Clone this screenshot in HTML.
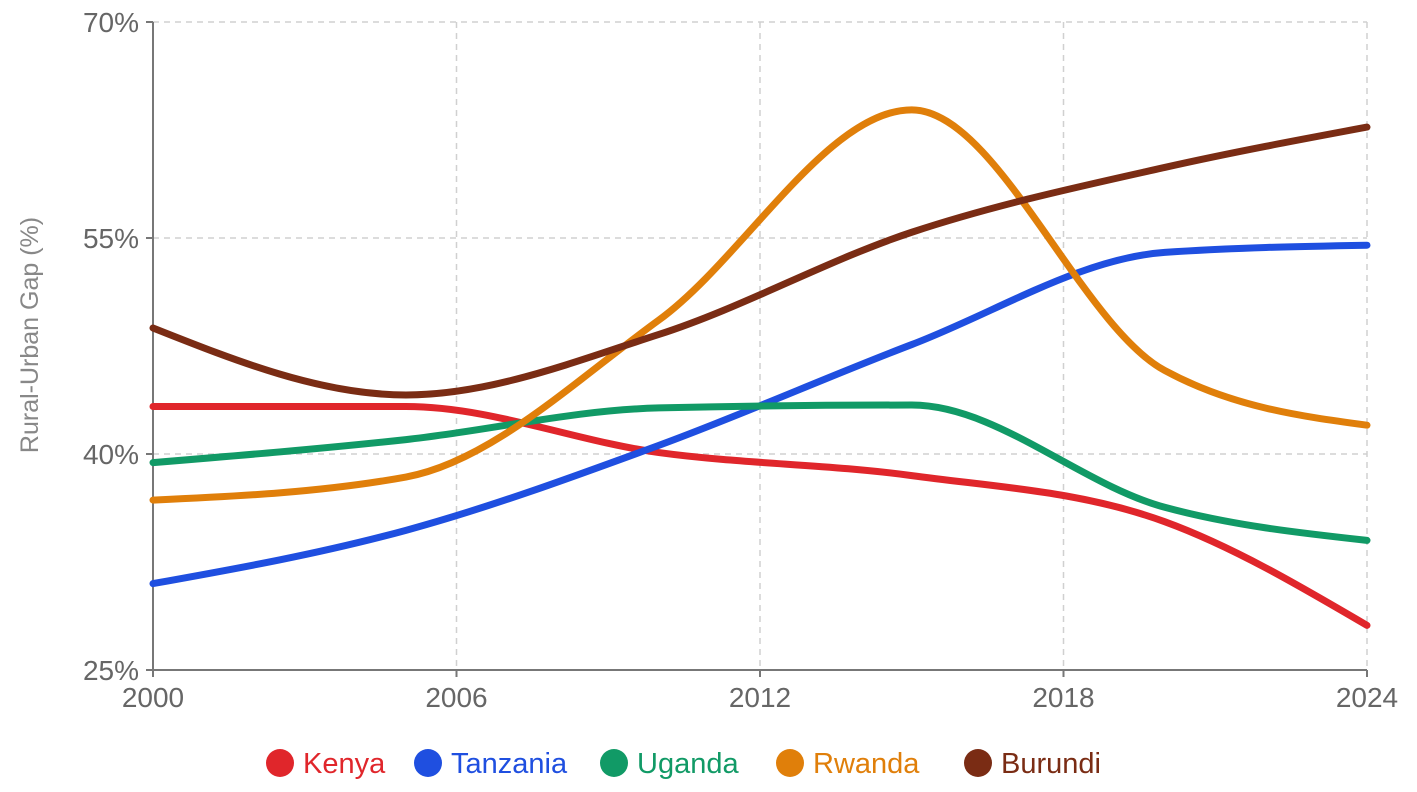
<!DOCTYPE html>
<html><head><meta charset="utf-8"><style>
body{margin:0;background:#fff;}
svg{display:block;font-family:"Liberation Sans","DejaVu Sans",sans-serif;}
</style></head><body>
<svg id="chart" width="1417" height="792"></svg>
<script>
const years=[2000,2005,2010,2015,2020,2024];
const seriesNames=["Kenya","Tanzania","Uganda","Rwanda","Burundi"];
const seriesColors=["#e0262b","#1f4fe0","#119a66","#e07f0a","#7a2c14"];
const kenya=[43.3,43.3,40.1,38.5,35.3,28.1];
const tanzania=[31.0,34.7,40.6,47.6,54.0,54.5];
const uganda=[39.4,41.0,43.2,43.4,36.3,34.0];
const rwanda=[36.8,38.4,49.3,63.9,45.8,42.0];
const burundi=[48.75,44.1,48.3,55.4,59.9,62.7];
const xTicks=[2000,2006,2012,2018,2024];
const yTicks=[25,40,55,70];
const yTickLabels=["25%","40%","55%","70%"];
const allSeries=[kenya,tanzania,uganda,rwanda,burundi];

const NS="http://www.w3.org/2000/svg";
const svg=document.getElementById('chart');
const X0=153,X1=1367,Y0=670,Y1=22;
const xs=v=>X0+(v-2000)/24*(X1-X0);
const ys=v=>Y0-(v-25)/45*(Y0-Y1);
function el(t,a){const e=document.createElementNS(NS,t);for(const k in a)e.setAttribute(k,a[k]);svg.appendChild(e);return e;}

xTicks.forEach(t=>{if(t===2000)return;const g=el('line',{x1:xs(t),x2:xs(t),y1:Y1,y2:Y0,stroke:'#d0d0d0','stroke-width':1.5,'stroke-dasharray':'6,5'});

});
yTicks.forEach(t=>{if(t===25)return;const g=el('line',{x1:X0,x2:X1,y1:ys(t),y2:ys(t),stroke:'#d0d0d0','stroke-width':1.5,'stroke-dasharray':'6,5'});

});
const ax=el('line',{x1:X0,x2:X0,y1:Y1,y2:Y0,stroke:'#777','stroke-width':2});


const bx=el('line',{x1:X0,x2:X1,y1:Y0,y2:Y0,stroke:'#777','stroke-width':2});


yTicks.forEach((t,i)=>{el('line',{x1:X0-7,x2:X0,y1:ys(t),y2:ys(t),stroke:'#777','stroke-width':2});
const tx=el('text',{x:X0-14,y:ys(t)+10,'text-anchor':'end','font-size':28,fill:'#666'});tx.textContent=yTickLabels[i];

});
xTicks.forEach(t=>{el('line',{x1:xs(t),x2:xs(t),y1:Y0,y2:Y0+7,stroke:'#777','stroke-width':2});
const tx=el('text',{x:xs(t),y:Y0+37,'text-anchor':'middle','font-size':28,fill:'#666'});tx.textContent=String(t);

});
const yt=el('text',{x:0,y:0,transform:'translate(38,335) rotate(-90)','text-anchor':'middle','font-size':25,fill:'#888'});
yt.textContent='Rural-Urban Gap (%)';



function monotonePath(px,py){
 const n=px.length,d=[],m=[];
 for(let i=0;i<n-1;i++)d.push((py[i+1]-py[i])/(px[i+1]-px[i]));
 for(let i=0;i<n;i++){
  if(i===0)m.push(d[0]);else if(i===n-1)m.push(d[n-2]);
  else{if(d[i-1]*d[i]<=0)m.push(0);else{const h0=px[i]-px[i-1],h1=px[i+1]-px[i];
   const p=(d[i-1]*h1+d[i]*h0)/(h0+h1);
   m.push((Math.sign(d[i-1])+Math.sign(d[i]))*Math.min(Math.abs(d[i-1]),Math.abs(d[i]),0.5*Math.abs(p)));}}
 }
 if(n>2){m[0]=(3*d[0]-m[1])/2;m[n-1]=(3*d[n-2]-m[n-2])/2;}
 let s=`M${px[0]},${py[0]}`;
 for(let i=0;i<n-1;i++){const h=(px[i+1]-px[i])/3;
  s+=`C${px[i]+h},${py[i]+h*m[i]} ${px[i+1]-h},${py[i+1]-h*m[i+1]} ${px[i+1]},${py[i+1]}`;}
 return s;
}
allSeries.forEach((vals,k)=>{
 const p=el('path',{d:monotonePath(years.map(xs),vals.map(ys)),fill:'none',stroke:seriesColors[k],'stroke-width':7,'stroke-linecap':'round'});
 
 
});
const lx=[280,428,614,790,978];
seriesNames.forEach((nm,k)=>{
 const c=el('circle',{cx:lx[k],cy:763,r:14,fill:seriesColors[k]});
 
 
 const t=el('text',{x:lx[k]+23,y:773,'font-size':29,fill:seriesColors[k]});t.textContent=nm;
 
 
});
</script>
</body></html>
